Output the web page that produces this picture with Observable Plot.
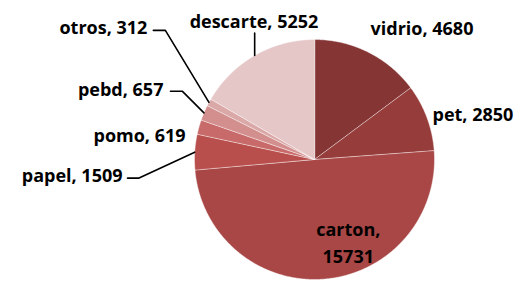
<!DOCTYPE html>
<html><head><meta charset="utf-8">
<script src="https://cdn.jsdelivr.net/npm/d3@7"></script>
<script src="https://cdn.jsdelivr.net/npm/@observablehq/plot@0.6"></script>
<style>body{margin:0;background:#fff}</style>
</head><body><div id="chart"></div>
<script>
// ---- data ----
const categories = ["vidrio", "pet", "carton", "papel", "pomo", "pebd", "otros", "descarte"];
const values = [4680, 2850, 15731, 1509, 619, 657, 312, 5252];
const colors = ["#853534", "#963d3b", "#a84745", "#b84f4c", "#c86a69", "#d38f8e", "#dba8a8", "#e6c7c8"];

// ---- layout (pixels) ----
const W = 521, H = 282, CX = 314, CY = 159, R = 120;
const labelLayout = {
  vidrio:   {dx: 2.2,   dy: -26.5, anchor: "start"},
  pet:      {dx: 5.6,   dy: -5.5,  anchor: "start"},
  carton:   {dx: 24,    dy: -38.5, anchor: "middle", wrap: true},
  papel:    {dx: -72.2, dy: 21,    anchor: "end", leader: {gap: 5, len: 11, off: 5}},
  pomo:     {dx: -13.4, dy: 6,     anchor: "end"},
  pebd:     {dx: -40.5, dy: -25.5, anchor: "end", leader: {gap: 7, len: 12, off: 4}},
  otros:    {dx: -61.6, dy: -77,   anchor: "end", leader: {gap: 6, len: 12, off: 5}},
  descarte: {dx: -0.7,  dy: -36.5, anchor: "middle", leader: {vertical: true, off: 14}}
};

const table = categories.map((name, i) => ({name, value: values[i]}));
const arcs = d3.pie().sort(null).value(d => d.value)(table);

// slice polygons (x right, y up; angle 0 at 12 o'clock, clockwise)
const slicePts = [];
for (const a of arcs) {
  const n = Math.max(2, Math.ceil((a.endAngle - a.startAngle) / (Math.PI / 360)));
  slicePts.push({name: a.data.name, x: 0, y: 0});
  for (let k = 0; k <= n; k++) {
    const t = a.startAngle + (a.endAngle - a.startAngle) * k / n;
    slicePts.push({name: a.data.name, x: R * Math.sin(t), y: R * Math.cos(t)});
  }
}

// labels and leaders
const labels = [], leaders = [];
for (const a of arcs) {
  const name = a.data.name, L = labelLayout[name];
  const mid = (a.startAngle + a.endAngle) / 2;
  const ax = R * Math.sin(mid), ay = R * Math.cos(mid);
  const tx = ax + L.dx, ty = ay - L.dy;
  labels.push({
    name, x: tx, y: ty, anchor: L.anchor,
    text: L.wrap ? `${name},\n${a.data.value}` : `${name}, ${a.data.value}`
  });
  if (L.leader) {
    const ld = L.leader;
    if (ld.vertical) {
      leaders.push({name, x: ax, y: ty - ld.off});
      leaders.push({name, x: ax, y: ay});
    } else {
      const ly = ty - ld.off;
      leaders.push({name, x: tx + ld.gap, y: ly});
      leaders.push({name, x: tx + ld.gap + ld.len, y: ly});
      leaders.push({name, x: ax, y: ay});
    }
  }
}

const textOpts = {fontFamily: "Open Sans", fontSize: 18, fontWeight: 700, fill: "#000"};

const plot = Plot.plot({
  width: W, height: H,
  margin: 0,
  x: {domain: [-CX, W - CX], axis: null},
  y: {domain: [-(H - CY), CY], axis: null},
  color: {domain: categories, range: colors},
  marks: [
    Plot.line(slicePts, {x: "x", y: "y", z: "name", fill: "name", curve: "linear-closed",
      stroke: "#fff", strokeWidth: 0.8, strokeOpacity: 0.55}),
    Plot.line(leaders, {x: "x", y: "y", z: "name", stroke: "#000", strokeWidth: 1.6}),
    ...["start", "middle", "end"].map(anc =>
      Plot.text(labels.filter(d => d.anchor === anc), {
        x: "x", y: "y", text: "text", textAnchor: anc, lineHeight: 1.55, ...textOpts
      }))
  ]
});
document.getElementById("chart").append(plot);
</script>
</body></html>
